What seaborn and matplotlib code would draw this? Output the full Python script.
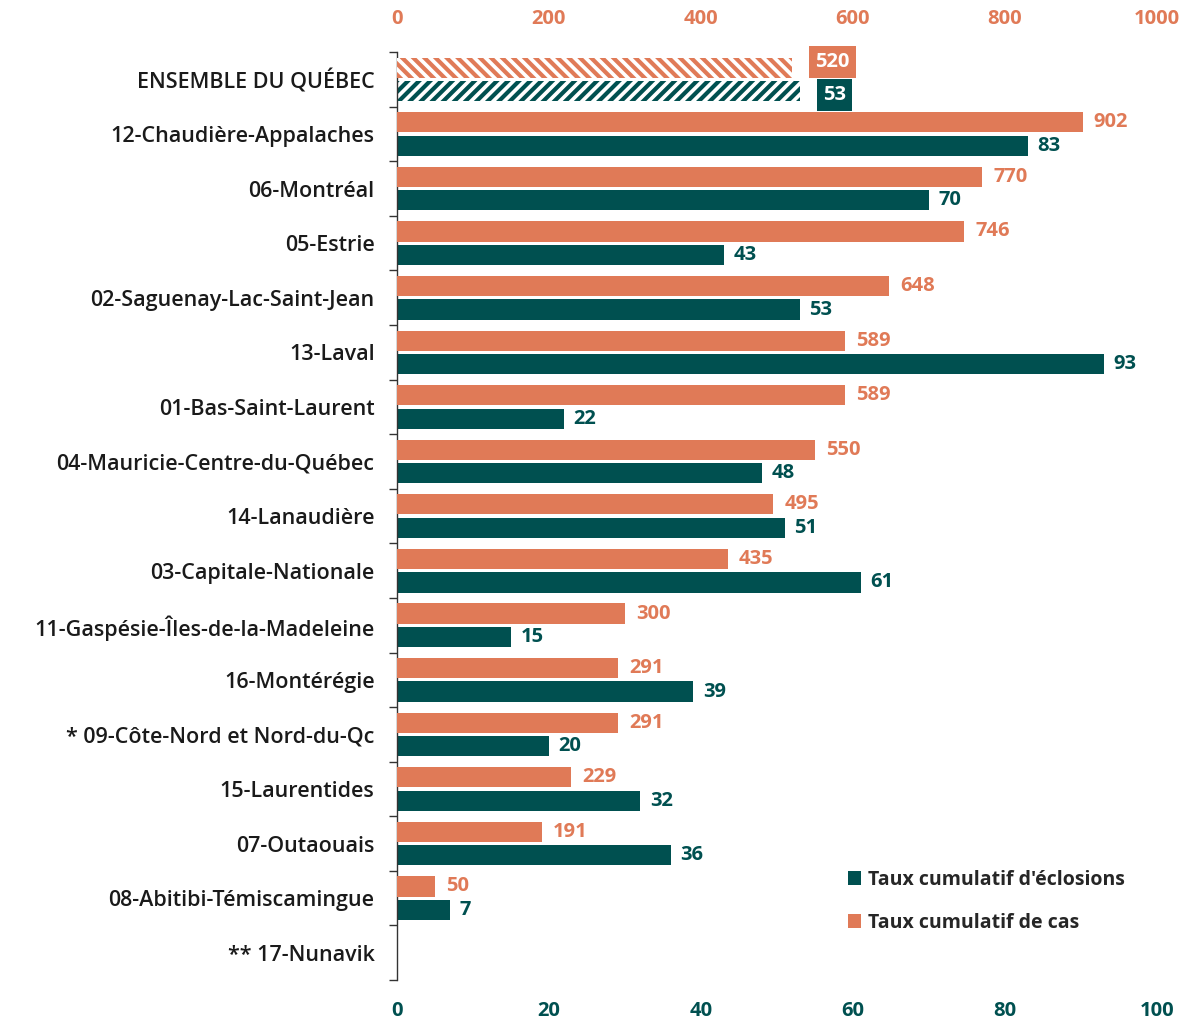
import numpy as np
import pandas as pd
import matplotlib
matplotlib.use("Agg")
import matplotlib.pyplot as plt
from matplotlib.patches import Patch
import seaborn as sns

regions = [
    "ENSEMBLE DU QUÉBEC",
    "12-Chaudière-Appalaches",
    "06-Montréal",
    "05-Estrie",
    "02-Saguenay-Lac-Saint-Jean",
    "13-Laval",
    "01-Bas-Saint-Laurent",
    "04-Mauricie-Centre-du-Québec",
    "14-Lanaudière",
    "03-Capitale-Nationale",
    "11-Gaspésie-Îles-de-la-Madeleine",
    "16-Montérégie",
    "* 09-Côte-Nord et Nord-du-Qc",
    "15-Laurentides",
    "07-Outaouais",
    "08-Abitibi-Témiscamingue",
    "** 17-Nunavik",
]
taux_cas = [520, 902, 770, 746, 648, 589, 589, 550, 495, 435, 300, 291, 291, 229, 191, 50, np.nan]
taux_eclosions = [53, 83, 70, 43, 53, 93, 22, 48, 51, 61, 15, 39, 20, 32, 36, 7, np.nan]
cas_ticks = [0, 200, 400, 600, 800, 1000]
ecl_ticks = [0, 20, 40, 60, 80, 100]

ORANGE = "#E07A57"
TEAL = "#005050"
LBL_CAS = "Taux cumulatif de cas"
LBL_ECL = "Taux cumulatif d'éclosions"

sns.set_theme(style="white")
plt.rcParams["font.family"] = ["Open Sans", "DejaVu Sans"]
plt.rcParams["hatch.linewidth"] = 3.0

df = pd.concat([
    pd.DataFrame({"region": regions, "serie": "cas", "cas": taux_cas, "ecl": np.nan}),
    pd.DataFrame({"region": regions, "serie": "ecl", "cas": np.nan, "ecl": taux_eclosions}),
], ignore_index=True)

fig = plt.figure(figsize=(11.88, 10.23), dpi=100)
ax = fig.add_axes([0.334, 0.042, 0.640, 0.907])
ax_top = ax.twiny()

pal = {"cas": ORANGE, "ecl": TEAL}
common = dict(y="region", hue="serie", hue_order=["cas", "ecl"], order=regions,
              palette=pal, orient="h", dodge=True, width=0.86, gap=0.14,
              errorbar=None, legend=False, linewidth=0, saturation=1)
sns.barplot(data=df, x="cas", ax=ax_top, **common)
sns.barplot(data=df, x="ecl", ax=ax, **common)

n = len(regions)
ax.set_ylim(n - 0.5, -0.5)
ax.set_xlim(0, 100)
ax_top.set_xlim(0, 1000)
off = 0.86 / 4

# hatched "ENSEMBLE" bars
for a, col, h in ((ax_top, ORANGE, "\\\\\\"), (ax, TEAL, "///")):
    for p in a.patches:
        yc = p.get_y() + p.get_height() / 2
        if yc < 0.5 and p.get_width() > 0:
            p.set_facecolor("white")
            p.set_edgecolor(col)
            p.set_hatch(h)
            p.set_linewidth(0)

VAL_FS = 14.5
# value labels
for i in range(1, n):
    c = taux_cas[i]
    e = taux_eclosions[i]
    if not np.isnan(c):
        ax_top.annotate(f"{c:.0f}", (c, i - off), xytext=(8, 0), textcoords="offset points",
                        ha="left", va="center", color=ORANGE, fontsize=VAL_FS, fontweight="bold")
    if not np.isnan(e):
        ax.annotate(f"{e:.0f}", (e, i + off), xytext=(7, 0), textcoords="offset points",
                    ha="left", va="center", color=TEAL, fontsize=VAL_FS, fontweight="bold")

# boxed labels for the province total
ax_top.annotate(f"{taux_cas[0]:.0f}", (taux_cas[0], 0 - off - 0.1), xytext=(29, 0),
                textcoords="offset points", ha="center", va="center", color="white",
                fontsize=VAL_FS, fontweight="bold",
                bbox=dict(boxstyle="square,pad=0.3", fc=ORANGE, ec="none"))
ax.annotate(f"{taux_eclosions[0]:.0f}", (taux_eclosions[0], 0 + off + 0.07), xytext=(25, 0),
            textcoords="offset points", ha="center", va="center", color="white",
            fontsize=VAL_FS, fontweight="bold",
            bbox=dict(boxstyle="square,pad=0.3", fc=TEAL, ec="none"))

# axes styling
ax.set_xticks(ecl_ticks)
ax_top.set_xticks(cas_ticks)
ax.tick_params(axis="x", length=0, labelsize=14.5, labelcolor=TEAL, pad=15)
ax_top.tick_params(axis="x", length=0, labelsize=14.5, labelcolor=ORANGE, pad=17)
for lab in ax.get_xticklabels():
    lab.set_fontweight("bold")
for lab in ax_top.get_xticklabels():
    lab.set_fontweight("bold")

ax.set_yticks(range(n))
ax.set_yticklabels(regions, fontsize=15.5, color="#1a1a1a", fontweight="semibold")
ax.set_yticks(np.arange(-0.5, n), minor=True)
ax.tick_params(axis="y", which="major", length=0, pad=16)
ax.tick_params(axis="y", which="minor", length=6, width=1, color="#333333", left=True)
ax_top.tick_params(axis="y", left=False, labelleft=False)

for a in (ax, ax_top):
    a.set_xlabel("")
    a.set_ylabel("")
    for s in ("top", "right", "bottom"):
        a.spines[s].set_visible(False)
ax_top.spines["left"].set_visible(False)
ax.spines["left"].set_color("#333333")
ax.spines["left"].set_linewidth(1)

handles = [Patch(facecolor=TEAL, edgecolor="none", label=LBL_ECL),
           Patch(facecolor=ORANGE, edgecolor="none", label=LBL_CAS)]
leg = ax.legend(handles=handles, loc="lower left", bbox_to_anchor=(0.57, 0.032),
                frameon=False, handlelength=0.7, handleheight=0.7, handletextpad=0.35,
                labelspacing=1.2, prop={"size": 14, "weight": "bold"})

fig.savefig("out.png", dpi=100)
